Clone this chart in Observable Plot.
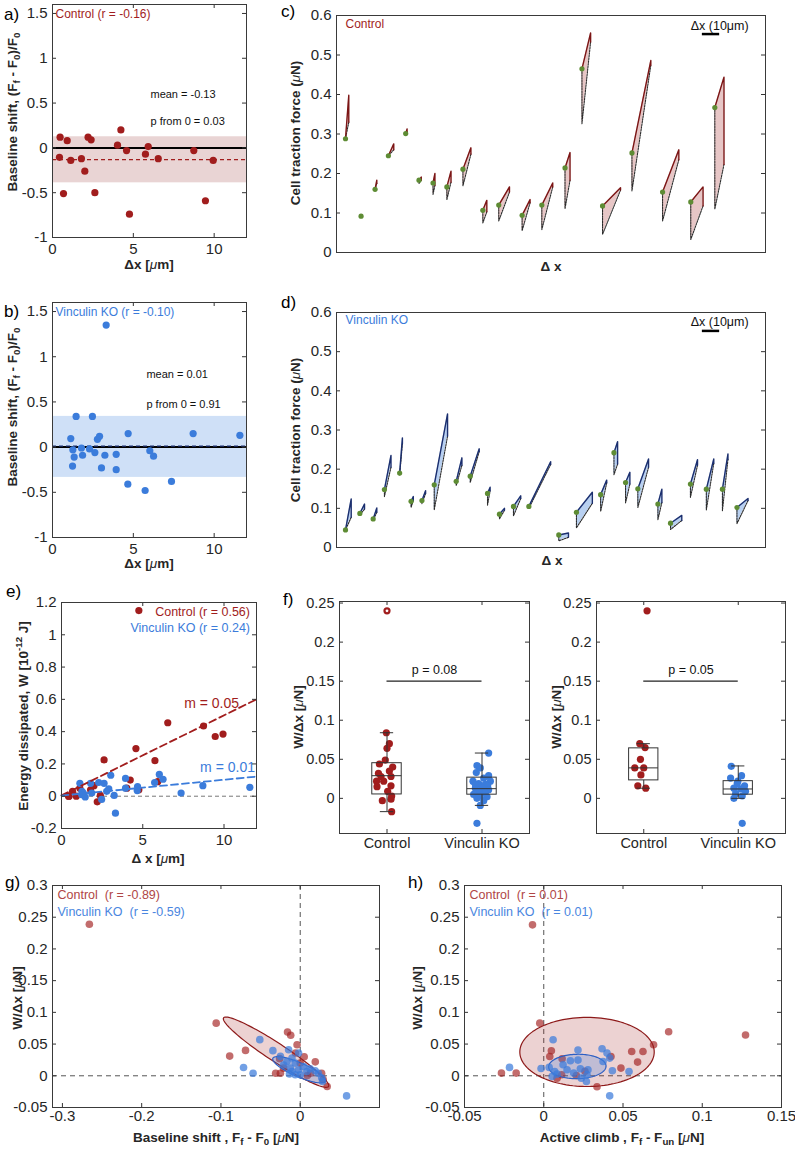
<!DOCTYPE html>
<html>
<head>
<meta charset="utf-8">
<script src="https://cdn.jsdelivr.net/npm/d3@7"></script>
<script src="https://cdn.jsdelivr.net/npm/@observablehq/plot@0.6"></script>
<style>
html,body{margin:0;padding:0;background:#fff;}
#fig{position:relative;width:795px;height:1149px;overflow:hidden;background:#fff;}
</style>
</head>
<body>
<div id="fig"></div>
<script>
// ---------------- DATA ----------------
// (a) Control baseline shift vs dx
const aX = [0.47,0.43,0.91,0.68,1.13,1.79,2.0,2.2,2.39,2.62,4.02,4.23,4.58,4.76,5.75,5.92,6.54,8.74,9.46,9.94];
const aY = [0.12,-0.105,0.08,-0.51,-0.14,-0.12,-0.26,0.12,0.09,-0.50,0.03,0.20,-0.03,-0.74,-0.07,0.015,-0.12,-0.03,-0.59,-0.14];
const aMean = -0.13, aBand = [-0.39, 0.124], aR = "-0.16", aP = "0.03";
// (b) Vinculin KO baseline shift vs dx
const bX = [3.32,1.13,1.26,1.34,1.24,1.46,1.79,1.86,2.29,2.47,2.62,2.78,2.91,3.03,3.24,3.94,3.94,4.68,4.66,5.73,6.02,6.25,7.36,8.70,11.59];
const bY = [1.35,0.094,-0.03,-0.11,-0.21,0.34,-0.01,-0.09,-0.02,0.34,-0.06,0.086,0.12,-0.23,-0.09,-0.08,-0.25,0.15,-0.41,-0.48,-0.04,-0.10,-0.38,0.15,0.13];
const bMean = 0.01, bBand = [-0.335, 0.34], bR = "-0.10", bP = "0.91";
const abXTicks = [0,5,10], abYTicks = [-1,-0.5,0,0.5,1,1.5];

// (c) Control force cycles: start x, end x (um), F0 (green dot), peak, end-of-drop, minimum
const cX0 = [5.2,14.2,22.3,30.0,40.0,47.7,55.8,63.8,73.1,84.6,93.8,107.3,118.7,132.1,141.9,153.8,170.8,188.5,204.8,218.7];
const cX1 = [7.1,14.8,23.3,33.1,40.8,49.0,56.9,66.2,77.7,86.9,100.0,111.9,125.0,135.0,146.9,164.2,181.7,197.9,211.9,224.0];
const cF0 = [0.288,0.092,0.160,0.245,0.301,0.183,0.176,0.166,0.211,0.107,0.120,0.094,0.120,0.214,0.465,0.118,0.252,0.153,0.128,0.367];
const cFpk = [0.398,0.095,0.183,0.275,0.313,0.191,0.200,0.206,0.265,0.132,0.166,0.134,0.176,0.253,0.556,0.164,0.486,0.260,0.166,0.444];
const cF1 = [0.330,0.093,0.175,0.260,0.305,0.183,0.170,0.178,0.249,0.103,0.153,0.126,0.166,0.183,0.533,0.158,0.474,0.235,0.118,0.223];
const cFmn = [0.288,0.090,0.160,0.245,0.300,0.175,0.147,0.134,0.169,0.075,0.080,0.055,0.058,0.111,0.326,0.046,0.156,0.080,0.033,0.110];
// (d) Vinculin KO force cycles
const dX0 = [5.2,13.5,21.2,27.7,36.5,43.1,49.4,56.5,69.2,77.3,87.3,94.2,102.3,111.2,128.5,138.7,152.7,160.4,167.1,174.2,185.8,193.1,204.6,213.8,223.1,231.5];
const dX1 = [8.5,16.2,23.3,31.5,38.1,44.4,51.5,64.2,72.5,82.5,88.8,97.1,106.5,123.8,134.1,147.9,156.2,162.5,169.6,180.4,188.1,199.6,208.7,218.1,226.3,237.9];
const dF0 = [0.045,0.087,0.073,0.148,0.190,0.118,0.120,0.160,0.169,0.182,0.138,0.085,0.105,0.105,0.032,0.090,0.135,0.242,0.166,0.150,0.111,0.062,0.162,0.149,0.149,0.102];
const dFpk = [0.124,0.111,0.101,0.235,0.280,0.130,0.145,0.341,0.229,0.252,0.154,0.100,0.132,0.219,0.037,0.141,0.172,0.270,0.192,0.226,0.149,0.082,0.224,0.226,0.239,0.125];
const dF1 = [0.077,0.098,0.090,0.205,0.265,0.120,0.138,0.284,0.210,0.245,0.145,0.095,0.125,0.212,0.026,0.113,0.165,0.213,0.162,0.205,0.115,0.069,0.210,0.215,0.225,0.120];
const dFmn = [0.045,0.083,0.070,0.130,0.185,0.102,0.112,0.096,0.158,0.166,0.108,0.073,0.081,0.100,0.017,0.050,0.092,0.186,0.114,0.102,0.071,0.046,0.128,0.096,0.094,0.061];
const cdYTicks = [0,0.1,0.2,0.3,0.4,0.5,0.6];
const scaleBarUm = 10;

// (e) energy dissipated vs dx (x values shared with a / b)
const eCtrlW = [0.0,0.0,0.0,0.03,0.05,0.04,0.065,-0.035,0.005,0.225,0.05,0.10,0.295,0.04,0.22,0.09,0.455,0.435,0.37,0.385];
const eVkoW = [-0.105,0.08,0.03,0.02,0.01,-0.005,0.08,0.02,0.085,-0.02,0.08,0.03,0.045,0.13,0.005,0.11,0.05,0.06,0.035,0.085,0.135,0.105,0.02,0.065,0.055];
const eSlope = [0.0496, 0.0098], eIntercept = [0.005, 0.004];
const eSlopeLabel = ["0.05","0.01"], eR = ["0.56","0.24"];
const eYTicks = [-0.2,0,0.2,0.4,0.6,0.8,1,1.2];

// (f) W/dx box plots
const groups = ["Control","Vinculin KO"];
const fLCtrl = [0.240,0.084,0.070,0.064,0.049,0.040,0.035,0.032,0.028,0.028,0.022,0.022,0.016,0.015,0.009,0.003,-0.001,-0.003,-0.017,0.044];
const fLCtrlJ = [0,-0.007,0.025,0,-0.018,0.06,0.025,-0.09,-0.063,0.042,-0.035,-0.11,0.042,-0.105,0.007,0.049,0.042,-0.049,0.049,-0.08];
const fLVko = [0.058,0.042,0.039,0.033,0.029,0.026,0.022,0.022,0.019,0.018,0.016,0.013,0.013,0.011,0.010,0.008,0.007,0.005,0.003,0.002,0.000,-0.003,-0.009,-0.032,0.018];
const fLVkoJ = [0.07,-0.053,-0.018,-0.06,0.07,0.018,-0.095,0.088,-0.035,0.035,0.06,-0.07,0,0.07,-0.018,-0.035,0.035,-0.088,-0.018,0.053,-0.053,0.018,-0.018,-0.053,-0.07];
const fRCtrl = [0.240,0.070,0.065,0.050,0.039,0.039,0.030,0.016,0.013];
const fRCtrlJ = [0.035,-0.042,0.014,-0.035,-0.095,0,-0.03,-0.063,0.021];
const fRVko = [0.041,0.029,0.026,0.022,0.019,0.016,0.013,0.012,0.009,0.006,0.003,0.000,-0.032];
const fRVkoJ = [-0.074,0.035,-0.081,-0.004,-0.011,0.067,-0.046,0.025,0.077,-0.028,0.042,-0.046,0.042];
// box stats: [lower whisker, q1, median, q3, upper whisker]
const fLBox = [[-0.017,0.005,0.029,0.045,0.084],[-0.009,0.0047,0.0124,0.0265,0.058]];
const fRBox = [[0.013,0.023,0.039,0.064,0.070],[0.0,0.0047,0.012,0.022,0.0415]];
const fP = ["0.08","0.05"], fPLevel = 0.15;
const fYTicks = [0,0.05,0.1,0.15,0.2,0.25];

// (g) W/dx vs baseline shift
const gCtrlX = [-0.266,-0.106,-0.089,-0.069,-0.016,-0.012,-0.004,-0.006,-0.026,-0.031,-0.025,0.0,0.019,0.013,0.009,0.027,0.029,0.034,-0.021,0.005];
const gCtrlY = [0.239,0.083,0.031,0.040,0.069,0.064,0.049,0.036,0.027,0.004,0.004,0.020,0.022,0.004,0.0005,0.004,-0.006,-0.017,0.012,0.030];
const gVkoX = [-0.051,-0.0715,-0.0595,-0.0345,-0.0146,-0.025,-0.0167,-0.0104,-0.0063,-0.0125,-0.0021,0.0042,0.0084,0.0,-0.0063,0.0125,0.0188,0.023,0.0271,0.0282,-0.0021,-0.0209,-0.0104,-0.0136,0.0585];
const gVkoY = [0.057,0.013,0.004,0.0396,0.041,0.0306,0.0227,0.028,0.020,0.012,0.0095,0.0147,0.0068,0.0016,0.0016,0.011,0.008,0.004,-0.003,-0.009,0.036,0.017,0.0068,0.003,-0.0317];
const gEllCtrl = {c:[-0.0305,0.0372], a:[0.0662,-0.0541], b:[0.0062,0.012]};
const gEllVko = {c:[-0.0015,0.0095], a:[0.033,-0.0182], b:[0.004,0.0098]};
const gR = ["-0.89","-0.59"];
// (h) W/dx vs active climb
const hCtrlX = [-0.0071,-0.0025,-0.0267,-0.0174,0.0048,0.0038,0.0116,0.0113,0.0206,0.0336,0.0424,0.0487,0.0555,0.0592,0.0626,0.0693,0.0788,0.1273,0.0084,0.026];
const hCtrlY = [0.238,0.083,0.0042,0.0042,0.0395,0.0305,0.0268,0.0016,0.0005,-0.0174,0.0305,0.0121,0.0384,0.0216,0.0384,0.049,0.0695,0.0642,-0.004,0.007];
const hVkoX = [-0.0216,-0.0017,0.0059,0.0034,0.0069,0.0084,0.0122,0.0168,0.0216,0.0216,0.0231,0.0237,0.0269,0.0279,0.0273,0.0368,0.0399,0.0416,0.0374,0.0433,0.0538,0.0416,0.0147,0.0189,0.0053];
const hVkoY = [0.0132,0.0116,0.0568,0.0132,0.0068,0.0026,0.0174,0.0237,0.0405,0.0247,0.011,-0.0037,-0.0089,0.0095,0.0016,0.0426,0.0358,0.0279,0.0226,0.0079,0.0068,-0.0316,0.0095,0.0042,-0.001];
const hEllCtrl = {c:[0.0273,0.0376], a:[0.0424,0], b:[0,0.0545]};
const hEllVko = {c:[0.0212,0.0147], a:[0.0181,0.0012], b:[-0.0006,0.0192]};
const hR = ["0.01","0.01"];
const ghYTicks = [-0.05,0,0.05,0.1,0.15,0.2,0.25,0.3];
const gXTicks = [-0.3,-0.2,-0.1,0], hXTicks = [-0.05,0,0.05,0.1,0.15];

// ---------------- HELPERS ----------------
const FONT = "'Liberation Sans', Arial, Helvetica, sans-serif";
const RED = "#a11d1d", BLUE = "#3b7cdb";
const fig = document.getElementById("fig");
const fmt = d => String(d);

function mkPlot(pos, opts, marks) {
  const svg = Plot.plot({
    width: pos.w, height: pos.h,
    marginLeft: pos.ml, marginRight: pos.mr, marginTop: pos.mt, marginBottom: pos.mb,
    style: {fontFamily: FONT, fontSize: "15px", color: "#262626", background: "transparent", overflow: "visible"},
    ...opts,
    marks
  });
  Object.assign(svg.style, {position: "absolute", left: pos.l + "px", top: pos.t + "px"});
  fig.appendChild(svg);
  return svg;
}

function frameMarks(pos, {xt = null, yt = null, xfmt = fmt, yfmt = fmt, tk = 4, px = 6, py = 5, fs = 15} = {}) {
  const W = pos.w - pos.ml - pos.mr, H = pos.h - pos.mt - pos.mb;
  const m = [];
  if (yt) {
    m.push(Plot.tickY(yt, {y: d => d, insetRight: W - tk, stroke: "#333"}));
    m.push(Plot.tickY(yt, {y: d => d, insetLeft: W - tk, stroke: "#333"}));
    m.push(Plot.axisY(yt, {anchor: "left", tickSize: 0, tickPadding: py, tickFormat: yfmt, label: null, fontSize: fs}));
  }
  if (xt) {
    m.push(Plot.tickX(xt, {x: d => d, insetTop: H - tk, stroke: "#333"}));
    m.push(Plot.tickX(xt, {x: d => d, insetBottom: H - tk, stroke: "#333"}));
    m.push(Plot.axisX(xt, {anchor: "bottom", tickSize: 0, tickPadding: px, tickFormat: xfmt, label: null, fontSize: fs}));
  }
  m.push(Plot.frame({stroke: "#3a3a3a", strokeWidth: 1}));
  return m;
}

const pts = (X, Y) => X.map((x, i) => ({x, y: Y[i]}));

function cycleMarks(X0, X1, F0, Fpk, F1, Fmn, fill, solid) {
  const area = [], sol = [], dash = [], dots = [];
  X0.forEach((x0, i) => {
    area.push({id: i, x: x0, y1: Fmn[i], y2: F0[i]}, {id: i, x: X1[i], y1: F1[i], y2: Fpk[i]});
    sol.push({id: i, x: x0, y: F0[i]}, {id: i, x: X1[i], y: Fpk[i]}, {id: i, x: X1[i], y: F1[i]});
    dash.push({id: i, x: X1[i], y: F1[i]}, {id: i, x: x0, y: Fmn[i]}, {id: i, x: x0, y: F0[i]});
    dots.push({x: x0, y: F0[i]});
  });
  return [
    Plot.areaY(area, {x: "x", y1: "y1", y2: "y2", z: "id", fill}),
    Plot.line(dash, {x: "x", y: "y", z: "id", stroke: "#2a2a2a", strokeWidth: 1.1, strokeDasharray: "1.6,1.1"}),
    Plot.line(sol, {x: "x", y: "y", z: "id", stroke: solid, strokeWidth: 1.4}),
    Plot.dot(dots, {x: "x", y: "y", r: 2.6, fill: "#5e8c34"})
  ];
}

function boxMarks(box) {
  const rows = box.map((b, i) => ({pos: i + 1, lo: b[0], q1: b[1], med: b[2], q3: b[3], hi: b[4]}));
  const hw = 0.155, cw = 0.07, s = "#333";
  return [
    Plot.ruleX(rows, {x: "pos", y1: "q3", y2: "hi", stroke: s}),
    Plot.ruleX(rows, {x: "pos", y1: "lo", y2: "q1", stroke: s}),
    Plot.ruleY(rows, {y: "hi", x1: d => d.pos - cw, x2: d => d.pos + cw, stroke: s}),
    Plot.ruleY(rows, {y: "lo", x1: d => d.pos - cw, x2: d => d.pos + cw, stroke: s}),
    Plot.rect(rows, {x1: d => d.pos - hw, x2: d => d.pos + hw, y1: "q1", y2: "q3", fill: "none", stroke: s}),
    Plot.ruleY(rows, {y: "med", x1: d => d.pos - hw, x2: d => d.pos + hw, stroke: s})
  ];
}

function jitterPts(vals, jit, pos) { return vals.map((v, i) => ({x: pos + jit[i], y: v})); }

function ellipsePts(e) {
  return d3.range(0, 121).map(k => {
    const t = k / 120 * 2 * Math.PI;
    return {x: e.c[0] + e.a[0] * Math.cos(t) + e.b[0] * Math.sin(t), y: e.c[1] + e.a[1] * Math.cos(t) + e.b[1] * Math.sin(t)};
  });
}

// ---------------- PANEL a ----------------
const aXDom = [0, 12], aYDom = [-1, 1.6];
const posA = {l: 0, t: 0, w: 262, h: 275, ml: 52, mr: 16, mt: 4, mb: 38};
mkPlot(posA, {x: {domain: aXDom}, y: {domain: aYDom}}, [
  Plot.rect([aBand], {x1: () => aXDom[0], x2: () => aXDom[1], y1: d => d[0], y2: d => d[1], fill: "#e9d4d4"}),
  Plot.ruleY([0], {stroke: "#000", strokeWidth: 2}),
  Plot.ruleY([aMean], {stroke: RED, strokeWidth: 1.3, strokeDasharray: "4,3"}),
  Plot.dot(pts(aX, aY), {x: "x", y: "y", r: 3.6, fill: RED}),
  Plot.text([`Control (r = ${aR})`], {frameAnchor: "top-left", dx: 3, dy: 5, lineAnchor: "top", textAnchor: "start", fill: RED, fontSize: 12}),
  Plot.text([`mean = ${aMean}`], {x: () => 6.06, y: () => 0.6, textAnchor: "start", fontSize: 11, fill: "#111"}),
  Plot.text([`p from 0 = ${aP}`], {x: () => 6.06, y: () => 0.29, textAnchor: "start", fontSize: 11, fill: "#111"}),
  ...frameMarks(posA, {xt: abXTicks, yt: abYTicks})
]);

// ---------------- PANEL b ----------------
const posB = {l: 0, t: 290, w: 262, h: 285, ml: 52, mr: 16, mt: 12, mb: 38};
mkPlot(posB, {x: {domain: aXDom}, y: {domain: aYDom}}, [
  Plot.rect([bBand], {x1: () => aXDom[0], x2: () => aXDom[1], y1: d => d[0], y2: d => d[1], fill: "#cfe0f7"}),
  Plot.ruleY([0], {stroke: "#000", strokeWidth: 2}),
  Plot.ruleY([bMean], {stroke: "#1b2f70", strokeWidth: 1.3, strokeDasharray: "4,3"}),
  Plot.dot(pts(bX, bY), {x: "x", y: "y", r: 3.6, fill: BLUE}),
  Plot.text([`Vinculin KO (r = ${bR})`], {frameAnchor: "top-left", dx: 3, dy: 5, lineAnchor: "top", textAnchor: "start", fill: BLUE, fontSize: 12}),
  Plot.text([`mean = ${bMean}`], {x: () => 5.81, y: () => 0.8, textAnchor: "start", fontSize: 11, fill: "#111"}),
  Plot.text([`p from 0 = ${bP}`], {x: () => 5.81, y: () => 0.47, textAnchor: "start", fontSize: 11, fill: "#111"}),
  ...frameMarks(posB, {xt: abXTicks, yt: abYTicks})
]);

// ---------------- PANEL c / d ----------------
const cdXDom = [0, 248], cdYDom = [0, 0.6];
const posC = {l: 280, t: 2, w: 500, h: 280, ml: 56, mr: 15, mt: 13, mb: 30};
mkPlot(posC, {x: {domain: cdXDom, axis: null}, y: {domain: cdYDom}}, [
  ...cycleMarks(cX0, cX1, cF0, cFpk, cF1, cFmn, "#e7c6c6", "#7b1515"),
  Plot.text(["Control"], {frameAnchor: "top-left", dx: 9, dy: 4, lineAnchor: "top", textAnchor: "start", fill: RED, fontSize: 12}),
  Plot.ruleY([0], {x1: () => 211.5, x2: () => 211.5 + scaleBarUm, y: () => 0.553, stroke: "#000", strokeWidth: 2.5}),
  Plot.text([`Δx (${scaleBarUm}μm)`], {x: () => 221.5, y: () => 0.573, fontSize: 12.5, fill: "#111"}),
  ...frameMarks(posC, {yt: cdYTicks})
]);
const posD = {l: 280, t: 299, w: 500, h: 280, ml: 56, mr: 15, mt: 13, mb: 32};
mkPlot(posD, {x: {domain: cdXDom, axis: null}, y: {domain: cdYDom}}, [
  ...cycleMarks(dX0, dX1, dF0, dFpk, dF1, dFmn, "#b8d0f1", "#1c2f6e"),
  Plot.text(["Vinculin KO"], {frameAnchor: "top-left", dx: 9, dy: 3, lineAnchor: "top", textAnchor: "start", fill: BLUE, fontSize: 12}),
  Plot.ruleY([0], {x1: () => 211.5, x2: () => 211.5 + scaleBarUm, y: () => 0.553, stroke: "#000", strokeWidth: 2.5}),
  Plot.text([`Δx (${scaleBarUm}μm)`], {x: () => 221.5, y: () => 0.575, fontSize: 12.5, fill: "#111"}),
  ...frameMarks(posD, {yt: cdYTicks})
]);

// ---------------- PANEL e ----------------
const eXDom = [0, 12], eYDom = [-0.2, 1.2];
const posE = {l: 0, t: 589, w: 270, h: 275, ml: 61, mr: 14, mt: 13, mb: 36};
const fitLine = k => [eXDom[0], eXDom[1]].map(x => ({x, y: eSlope[k] * x + eIntercept[k]}));
mkPlot(posE, {x: {domain: eXDom}, y: {domain: eYDom}}, [
  Plot.ruleY([0], {stroke: "#777", strokeWidth: 1, strokeDasharray: "4,3"}),
  Plot.dot(pts(aX, eCtrlW), {x: "x", y: "y", r: 3.6, fill: RED}),
  Plot.dot(pts(bX, eVkoW), {x: "x", y: "y", r: 3.6, fill: BLUE}),
  Plot.line(fitLine(0), {x: "x", y: "y", stroke: RED, strokeWidth: 1.8, strokeDasharray: "7,4"}),
  Plot.line(fitLine(1), {x: "x", y: "y", stroke: BLUE, strokeWidth: 1.8, strokeDasharray: "7,4"}),
  Plot.dot([0], {x: () => 4.76, y: () => 1.15, r: 3.6, fill: RED}),
  Plot.text([`Control (r = ${eR[0]})`], {x: () => 11.6, y: () => 1.144, textAnchor: "end", fill: RED, fontSize: 12.5}),
  Plot.text([`Vinculin KO (r = ${eR[1]})`], {x: () => 11.6, y: () => 1.045, textAnchor: "end", fill: BLUE, fontSize: 12.5}),
  Plot.text([`m = ${eSlopeLabel[0]}`], {x: () => 7.55, y: () => 0.577, textAnchor: "start", fill: RED, fontSize: 14}),
  Plot.text([`m = ${eSlopeLabel[1]}`], {x: () => 8.53, y: () => 0.175, textAnchor: "start", fill: BLUE, fontSize: 14}),
  ...frameMarks(posE, {xt: [0, 5, 10], yt: eYTicks})
]);

// ---------------- PANEL f ----------------
const fXDom = [0.5, 2.5], fYDom = [-0.045, 0.252];
const catFmt = d => groups[d - 1];
function fPanel(pos, ctrl, ctrlJ, vko, vkoJ, box, p, outlierRing) {
  const cP = jitterPts(ctrl, ctrlJ, 1), vP = jitterPts(vko, vkoJ, 2);
  mkPlot(pos, {x: {domain: fXDom}, y: {domain: fYDom}}, [
    Plot.dot(cP, {x: "x", y: "y", r: 3.6, fill: RED}),
    Plot.dot(vP, {x: "x", y: "y", r: 3.6, fill: BLUE}),
    ...(outlierRing ? [Plot.dot(cP.filter(d => d.y > box[0][4]), {x: "x", y: "y", r: 1.4, fill: "#fff"})] : []),
    ...boxMarks(box),
    Plot.ruleY([fPLevel], {x1: () => 1, x2: () => 2, stroke: "#222", strokeWidth: 1.2}),
    Plot.text([`p = ${p}`], {x: () => 1.5, y: () => fPLevel + 0.0145, fontSize: 12.5, fill: "#111"}),
    ...frameMarks(pos, {xt: [1, 2], yt: fYTicks, xfmt: catFmt, px: 4, fs: 14.5})
  ]);
}
fPanel({l: 280, t: 588, w: 263, h: 270, ml: 59, mr: 14, mt: 13, mb: 25}, fLCtrl, fLCtrlJ, fLVko, fLVkoJ, fLBox, fP[0], true);
fPanel({l: 540, t: 588, w: 255, h: 270, ml: 56, mr: 10, mt: 13, mb: 25}, fRCtrl, fRCtrlJ, fRVko, fRVkoJ, fRBox, fP[1], false);

// ---------------- PANEL g / h ----------------
const ghYDom = [-0.05, 0.3];
function scatterPanel(pos, xDom, xt, cX, cY, vX, vY, eC, eV, r) {
  mkPlot(pos, {x: {domain: xDom}, y: {domain: ghYDom}}, [
    Plot.ruleY([0], {stroke: "#555", strokeWidth: 1, strokeDasharray: "5,4"}),
    Plot.ruleX([0], {stroke: "#555", strokeWidth: 1, strokeDasharray: "5,4"}),
    Plot.line(ellipsePts(eC), {x: "x", y: "y", fill: RED, fillOpacity: 0.2, stroke: "#8d1a1a", strokeWidth: 1.2}),
    Plot.dot(pts(cX, cY), {x: "x", y: "y", r: 3.8, fill: RED, fillOpacity: 0.65}),
    Plot.line(ellipsePts(eV), {x: "x", y: "y", fill: BLUE, fillOpacity: 0.25, stroke: "#2d5fc4", strokeWidth: 1.2}),
    Plot.dot(pts(vX, vY), {x: "x", y: "y", r: 3.8, fill: BLUE, fillOpacity: 0.72}),
    Plot.text([`Control  (r = ${r[0]})`], {frameAnchor: "top-left", dx: 5, dy: 5, lineAnchor: "top", textAnchor: "start", fill: "#b04646", fontSize: 12.5}),
    Plot.text([`Vinculin KO  (r = ${r[1]})`], {frameAnchor: "top-left", dx: 5, dy: 22, lineAnchor: "top", textAnchor: "start", fill: "#4a86e0", fontSize: 12.5}),
    ...frameMarks(pos, {xt, yt: ghYTicks, px: 3})
  ]);
}
scatterPanel({l: 0, t: 872, w: 395, h: 277, ml: 52, mr: 16, mt: 13, mb: 42}, [-0.3125, 0.1], gXTicks, gCtrlX, gCtrlY, gVkoX, gVkoY, gEllCtrl, gEllVko, gR);
scatterPanel({l: 400, t: 872, w: 395, h: 277, ml: 64, mr: 14, mt: 13, mb: 42}, [-0.05, 0.15], hXTicks, hCtrlX, hCtrlY, hVkoX, hVkoY, hEllCtrl, hEllVko, hR);

// ---------------- TITLES / LETTERS (overlay) ----------------
const ov = d3.create("svg").attr("width", 795).attr("height", 1149)
  .style("position", "absolute").style("left", "0px").style("top", "0px")
  .style("pointer-events", "none").style("font-family", FONT);
function rich(x, y, parts, o = {}) {
  const size = o.size || 13.5;
  const t = ov.append("text").attr("x", x).attr("y", y)
    .attr("text-anchor", o.anchor || "middle").attr("font-size", size)
    .attr("font-weight", o.weight || "bold").attr("fill", o.fill || "#262626");
  if (o.rotate) t.attr("transform", `rotate(-90 ${x} ${y})`);
  if (o.central !== false) t.attr("dominant-baseline", "central");
  let shift = 0;
  for (const p of parts) {
    const [s, k] = typeof p === "string" ? [p, ""] : p;
    const ts = t.append("tspan").text(s);
    const target = k === "sub" ? 4 : k === "sup" ? -5 : 0;
    if (target !== shift) { ts.attr("dy", target - shift); shift = target; }
    if (k === "sub" || k === "sup") ts.attr("font-size", size * 0.72);
    if (k === "it") ts.attr("font-style", "italic").attr("font-weight", "normal");
  }
}
const mu = ["μ", "it"];
const baseShiftLbl = ["Baseline shift, (F", ["f", "sub"], " - F", ["0", "sub"], ")/F", ["0", "sub"]];
rich(12, 112, baseShiftLbl, {rotate: true});
rich(149, 264, ["Δx [", mu, "m]"]);
rich(12, 407, baseShiftLbl, {rotate: true});
rich(149, 563, ["Δx [", mu, "m]"]);
rich(295, 133, ["Cell traction force (", mu, "N)"], {rotate: true});
rich(551, 266, ["Δ x"]);
rich(295, 430, ["Cell traction force (", mu, "N)"], {rotate: true});
rich(552, 560, ["Δ x"]);
rich(23, 716, ["Energy dissipated, W [10", ["-12", "sup"], " J]"], {rotate: true});
rich(158, 858, ["Δ x [", mu, "m]"]);
rich(298, 717, ["W/Δx [", mu, "N]"], {rotate: true});
rich(556, 717, ["W/Δx [", mu, "N]"], {rotate: true});
rich(17, 998, ["W/Δx [", mu, "N]"], {rotate: true});
rich(417, 998, ["W/Δx [", mu, "N]"], {rotate: true});
rich(216, 1137, ["Baseline shift , F", ["f", "sub"], " - F", ["0", "sub"], " [", mu, "N]"]);
rich(622, 1137, ["Active climb , F", ["f", "sub"], " - F", ["un", "sub"], " [", mu, "N]"]);
const letters = [["a)", 4, 20], ["b)", 4, 317], ["c)", 281, 17], ["d)", 281, 308], ["e)", 6, 597], ["f)", 283, 605], ["g)", 5, 888], ["h)", 408, 888]];
for (const [s, x, y] of letters) rich(x, y, [s], {anchor: "start", size: 17, weight: "normal", fill: "#000", central: false});
fig.appendChild(ov.node());
</script>
</body>
</html>
